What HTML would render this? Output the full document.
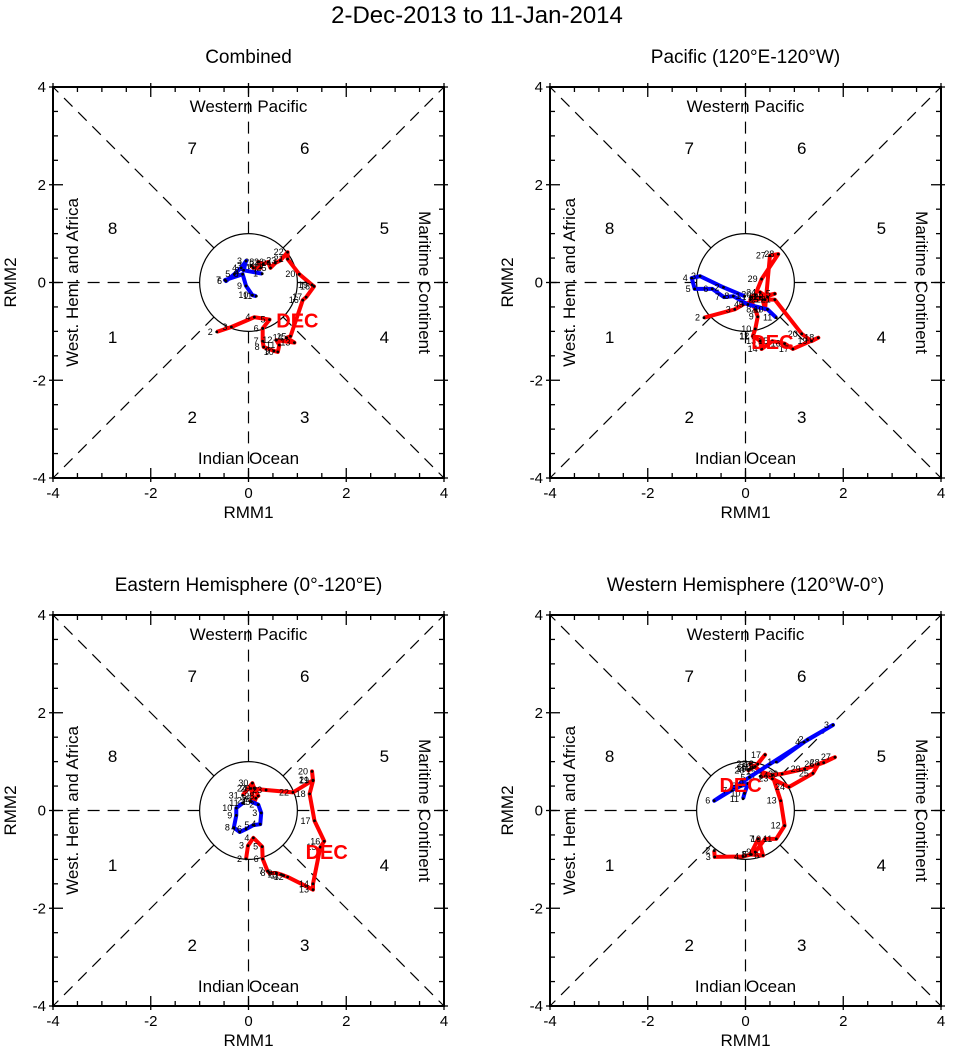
<!DOCTYPE html>
<html><head><meta charset="utf-8"><style>
body{margin:0;background:#fff;}
svg{display:block;font-family:"Liberation Sans",Arial,sans-serif;}
</style></head><body>
<svg id="chart" width="954" height="1057" viewBox="0 0 954 1057" xmlns="http://www.w3.org/2000/svg">
<text x="477" y="23" font-size="24" text-anchor="middle">2-Dec-2013 to 11-Jan-2014</text>
</svg>
<script>
const panelTitles=["Combined","Pacific (120°E-120°W)","Eastern Hemisphere (0°-120°E)","Western Hemisphere (120°W-0°)"];
const decDays=[2,3,4,5,6,7,8,9,10,11,12,13,14,15,16,17,18,19,20,21,22,23,24,25,26,27,28,29,30,31];
const janDays=[1,2,3,4,5,6,7,8,9,10,11];
const red1x=[-0.65,-0.35,0.12,0.43,0.29,0.29,0.31,0.52,0.60,0.63,0.57,0.94,0.78,0.86,1.11,1.18,1.34,1.30,1.04,0.80,0.80,0.65,0.55,0.45,0.40,0.30,0.20,0.25,0.10,0.05];
const red1y=[-1.01,-0.91,-0.71,-0.76,-0.94,-1.20,-1.32,-1.40,-1.42,-1.28,-1.18,-1.23,-1.13,-1.10,-0.36,-0.30,-0.08,-0.05,0.17,0.48,0.62,0.45,0.40,0.30,0.42,0.38,0.42,0.30,0.30,0.35];
const blue1x=[0.28,-0.10,-0.05,-0.15,-0.29,-0.46,-0.48,-0.12,-0.05,0.08,0.16];
const blue1y=[0.18,0.25,0.44,0.30,0.17,0.03,0.05,0.17,-0.07,-0.26,-0.28];
const red2x=[-0.85,-0.22,-0.05,0.60,0.30,0.10,0.20,0.25,0.20,0.15,0.16,0.30,0.33,0.55,0.80,0.97,1.49,1.35,1.15,0.60,0.40,0.45,0.30,0.35,0.40,0.50,0.67,0.33,0.20,0.10];
const red2y=[-0.72,-0.55,-0.45,-0.23,-0.30,-0.35,-0.55,-0.70,-0.95,-1.10,-1.09,-1.20,-1.36,-1.20,-1.25,-1.36,-1.13,-1.20,-1.05,-0.35,-0.35,-0.30,-0.20,-0.35,-0.55,0.55,0.58,0.07,-0.25,-0.30];
const blue2x=[-0.02,-0.45,-0.93,-1.10,-1.04,-0.68,-0.44,-0.25,0.05,0.45,0.63];
const blue2y=[-0.28,-0.10,0.13,0.09,-0.13,-0.13,-0.30,-0.28,-0.45,-0.55,-0.72];
const red3x=[-0.05,-0.01,0.10,0.28,0.29,0.39,0.43,0.57,0.67,0.72,0.80,1.32,1.32,1.47,1.55,1.35,1.25,1.32,1.30,1.32,0.91,0.36,0.05,0.12,0.15,0.05,0.20,0.12,0.08,-0.12];
const red3y=[-0.99,-0.72,-0.56,-0.74,-0.99,-1.24,-1.28,-1.28,-1.31,-1.33,-1.36,-1.62,-1.50,-0.75,-0.63,-0.21,0.34,0.61,0.80,0.62,0.37,0.42,0.45,0.17,0.25,0.20,0.30,0.45,0.56,0.31];
const blue3x=[0.05,0.20,0.26,0.24,0.10,-0.05,-0.18,-0.30,-0.25,-0.25,-0.12];
const blue3y=[0.18,0.12,-0.05,-0.28,-0.30,-0.38,-0.44,-0.35,-0.10,0.05,0.15];
const red4x=[-0.64,-0.63,-0.05,0.12,0.36,0.26,0.10,0.20,0.40,0.63,0.80,0.72,0.55,0.30,0.20,0.40,0.25,0.10,0.06,0.15,0.10,0.55,0.89,1.38,1.49,1.83,1.60,1.21,0.75,0.30];
const red4y=[-0.82,-0.95,-0.94,-0.90,-0.92,-0.58,-0.90,-0.85,-0.58,-0.58,-0.31,0.20,0.72,0.80,0.90,1.14,0.95,0.85,0.82,0.88,0.95,0.65,0.48,0.76,0.95,1.09,0.98,0.85,0.75,0.70];
const blue4x=[0.63,1.27,1.79,1.20,0.08,-0.64,-0.29,-0.10,0.05,-0.02,-0.05];
const blue4y=[0.99,1.45,1.75,1.40,0.68,0.20,0.41,0.50,0.55,0.35,0.24];
const decLabelX=[1.0,0.55,1.6,-0.1];
const decLabelY=[-0.78,-1.22,-0.85,0.52];
const tickVals=[-4,-2,0,2,4];

const NS="http://www.w3.org/2000/svg";
const svg=document.getElementById('chart');
function mk(tag,attrs,parent){const e=document.createElementNS(NS,tag);for(const k in attrs)e.setAttribute(k,attrs[k]);(parent||svg).appendChild(e);return e;}
const panels=[{x:53,y:87},{x:550,y:87},{x:53,y:615},{x:550,y:615}];
const reds=[[red1x,red1y],[red2x,red2y],[red3x,red3y],[red4x,red4y]];
const blues=[[blue1x,blue1y],[blue2x,blue2y],[blue3x,blue3y],[blue4x,blue4y]];
const S=391;
panels.forEach((p,i)=>{
  const g=mk('g',{});
  
  
  const sx=v=>p.x+(v+4)/8*S, sy=v=>p.y+(4-v)/8*S;
  const cx=sx(0), cy=sy(0), r=S/8;
  const t=mk('text',{x:cx,y:p.y-24,'font-size':19,'text-anchor':'middle'},g);t.textContent=panelTitles[i];
  
  
  mk('rect',{x:p.x,y:p.y,width:S,height:S,fill:'none',stroke:'#000','stroke-width':2},g);
  const d={stroke:'#000','stroke-width':1.2,'stroke-dasharray':'12,8',fill:'none'};
  const k=r/Math.SQRT2;
  [[1,1],[1,-1],[-1,1],[-1,-1]].forEach(([a,b])=>mk('line',Object.assign({x1:cx+a*k,y1:cy+b*k,x2:cx+a*S/2,y2:cy+b*S/2},d),g));
  [[1,0],[-1,0],[0,1],[0,-1]].forEach(([a,b])=>mk('line',Object.assign({x1:cx+a*r,y1:cy+b*r,x2:cx+a*S/2,y2:cy+b*S/2},d),g));
  mk('circle',{cx:cx,cy:cy,r:r,fill:'none',stroke:'#000','stroke-width':1.2},g);
  for(let v=-4;v<=4;v+=0.5){
    const maj=(v%2===0), L=maj?10:5, o=maj?4:0;
    mk('line',{x1:sx(v),y1:p.y+S+o,x2:sx(v),y2:p.y+S-L,stroke:'#000','stroke-width':1.3},g);
    mk('line',{x1:sx(v),y1:p.y-o,x2:sx(v),y2:p.y+L,stroke:'#000','stroke-width':1.3},g);
    mk('line',{x1:p.x-o,y1:sy(v),x2:p.x+L,y2:sy(v),stroke:'#000','stroke-width':1.3},g);
    mk('line',{x1:p.x+S+o,y1:sy(v),x2:p.x+S-L,y2:sy(v),stroke:'#000','stroke-width':1.3},g);
  }
  tickVals.forEach(v=>{
    const a=mk('text',{x:sx(v),y:p.y+S+20,'font-size':15,'text-anchor':'middle'},g);a.textContent=v;
    const b=mk('text',{x:p.x-7,y:sy(v)+5,'font-size':15,'text-anchor':'end'},g);b.textContent=v;
  });
  const xl=mk('text',{x:cx,y:p.y+S+40,'font-size':17,'text-anchor':'middle'},g);xl.textContent='RMM1';
  
  
  const yl=mk('text',{x:p.x-37,y:cy,'font-size':17,'text-anchor':'middle',transform:`rotate(-90 ${p.x-37} ${cy})`},g);yl.textContent='RMM2';
  
  
  const lab=(s,x,y,extra)=>{const e=mk('text',Object.assign({x:x,y:y,'font-size':17,'text-anchor':'middle'},extra||{}),g);e.textContent=s;return e;};
  lab('Western Pacific',cx,p.y+25);
  lab('Indian Ocean',cx,p.y+S-14);
  lab('West. Hem. and Africa',p.x+25,cy,{transform:`rotate(-90 ${p.x+25} ${cy})`});
  lab('Maritime Continent',p.x+S-25,cy,{transform:`rotate(90 ${p.x+S-25} ${cy})`});
  const ph=[[1,-2.78,-1.12],[2,-1.15,-2.75],[3,1.15,-2.75],[4,2.78,-1.12],[5,2.78,1.12],[6,1.15,2.75],[7,-1.15,2.75],[8,-2.78,1.12]];
  ph.forEach(([n,a,b])=>{const e=lab(n,sx(a),sy(b)+6);});
  const drawSeries=(xs,ys,days,color,name)=>{
    const pl=mk('polyline',{points:xs.map((v,j)=>sx(v)+','+sy(ys[j])).join(' '),fill:'none',stroke:color,'stroke-width':4,'stroke-linejoin':'round'},g);
    
    
    xs.forEach((v,j)=>{
      mk('circle',{cx:sx(v),cy:sy(ys[j]),r:1.4,fill:'#000'},g);
      const e=mk('text',{x:sx(v)-4,y:sy(ys[j])+3,'font-size':9,'text-anchor':'end'},g);e.textContent=days[j];
    });
  };
  drawSeries(reds[i][0],reds[i][1],decDays,'#f00','dec-trajectory');
  drawSeries(blues[i][0],blues[i][1],janDays,'#00f','jan-trajectory');
  const dl=mk('text',{x:sx(decLabelX[i]),y:sy(decLabelY[i])+7,'font-size':20,'font-weight':'bold',fill:'#f00','text-anchor':'middle'},g);dl.textContent='DEC';
  
  
});
</script>
</body></html>
